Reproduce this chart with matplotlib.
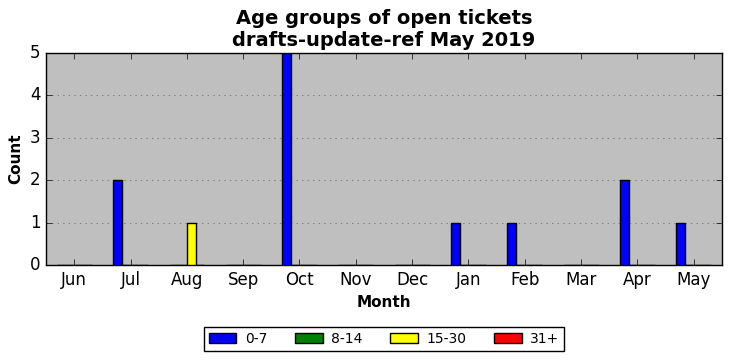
import matplotlib
matplotlib.use("Agg")
from matplotlib import pyplot as plt
import numpy as np

# ticket counts per age group for each month
months = ["Jun", "Jul", "Aug", "Sep", "Oct", "Nov", "Dec", "Jan", "Feb", "Mar", "Apr", "May"]
age_0_7 = [0, 2, 0, 0, 5, 0, 0, 1, 1, 0, 2, 1]
age_8_14 = [0, 0, 0, 0, 0, 0, 0, 0, 0, 0, 0, 0]
age_15_30 = [0, 0, 1, 0, 0, 0, 0, 0, 0, 0, 0, 0]
age_31 = [0, 0, 0, 0, 0, 0, 0, 0, 0, 0, 0, 0]

labels = ["0-7", "8-14", "15-30", "31+"]
colors = ["blue", "green", "yellow", "red"]

plt.style.use("classic")
fig = plt.figure(figsize=(7.32, 3.61), dpi=100)
ax = fig.add_axes([0.063, 0.266, 0.923, 0.587])
ax.set_facecolor("#bfbfbf")

x = np.arange(len(months))
width = 0.155
series = [age_0_7, age_8_14, age_15_30, age_31]
for k in range(len(series)):
    ax.bar(x - 0.23 + k * width, series[k], width, color=colors[k],
           edgecolor="black", linewidth=1, label=labels[k], zorder=3)

ax.set_xlim(-0.5, len(months) - 0.5)
ax.set_ylim(0, 5)
ax.set_xticks(x)
ax.set_xticklabels(months)
ax.set_yticks(range(6))
ax.yaxis.grid(True, linestyle=":", color="gray", linewidth=0.8, zorder=0)
ax.set_axisbelow(True)

ax.set_title("Age groups of open tickets\ndrafts-update-ref May 2019",
             fontsize=14, fontweight="bold")
ax.set_xlabel("Month", fontsize=11, fontweight="bold")
ax.set_ylabel("Count", fontsize=11, fontweight="bold")

ax.legend(loc="upper center", bbox_to_anchor=(0.5, -0.26), ncol=4,
          fontsize=10, fancybox=False, handlelength=2.0, handletextpad=0.6,
          columnspacing=2.0, borderpad=0.35)

fig.savefig("out.png", dpi=100)
